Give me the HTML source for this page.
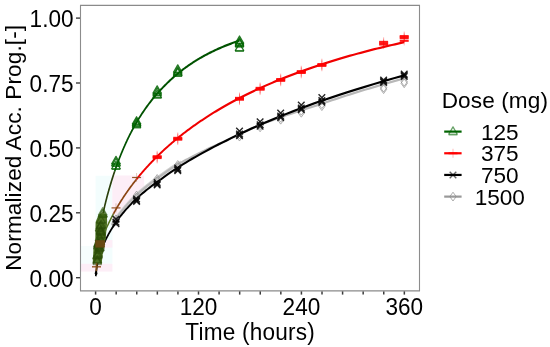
<!DOCTYPE html><html><head><meta charset="utf-8"><style>
html,body{margin:0;padding:0;background:#fff;}
body{width:550px;height:347px;overflow:hidden;}
svg{display:block;will-change:transform;filter:blur(0.3px);}
.ls{letter-spacing:0.27px;}
text{font-family:"Liberation Sans",sans-serif;fill:#000;}
</style></head><body>
<svg width="550" height="347" viewBox="0 0 550 347">
<rect x="0" y="0" width="550" height="347" fill="#fff"/>
<rect x="95.6" y="175.7" width="16.8" height="88.1" fill="#f3fdfd"/>
<rect x="81" y="246" width="14.6" height="17.8" fill="#f6fdfd"/>
<rect x="81" y="263.8" width="31.4" height="7.8" fill="#fdeef7"/>
<rect x="105" y="240" width="7.4" height="7.6" fill="#fdeef7"/>
<path d="M112.40,175.60 L144.00,175.60 L144.29,188.29 L143.19,189.27 L142.08,190.26 L140.97,191.27 L139.86,192.29 L138.75,193.33 L137.64,194.38 L136.53,195.44 L135.42,196.53 L134.31,197.63 L133.20,198.74 L132.09,199.88 L130.98,201.04 L129.87,202.22 L128.77,203.42 L127.66,204.64 L126.55,205.88 L125.44,207.16 L124.33,208.45 L123.22,209.78 L122.11,211.14 L121.00,212.53 L119.89,213.95 L118.78,215.41 L117.67,216.90 L116.56,218.44 L115.45,220.03 L114.35,221.67 L113.24,223.35 L112.13,225.10 Z" fill="#fdeef7"/>
<g transform="scale(1,1.4)">
<path d="M111.70,160.71 L111.83,160.55 L111.97,160.39 L112.11,160.23 L112.25,160.07 L112.39,159.91 L112.54,159.75 L112.68,159.59 L112.82,159.43 L112.97,159.26 L113.12,159.10 L113.27,158.94 L113.41,158.77 L113.57,158.60 L113.72,158.44 L113.87,158.27 L114.03,158.10 L114.18,157.94 L114.34,157.77 L114.50,157.60 L114.66,157.43 L114.82,157.26 L114.98,157.09 L115.15,156.91 L115.31,156.74 L115.48,156.57 L115.65,156.39 L115.82,156.22 L115.99,156.04 L116.16,155.87 L116.33,155.69 L116.51,155.51 L116.69,155.34 L116.87,155.16 L117.05,154.98 L117.23,154.80 L117.41,154.62 L117.59,154.44 L117.78,154.26 L117.97,154.07 L118.16,153.89 L118.35,153.71 L118.54,153.52 L118.73,153.34 L118.93,153.15 L119.13,152.96 L119.33,152.78 L119.53,152.59 L119.73,152.40 L119.93,152.21 L120.14,152.02 L120.34,151.83 L120.55,151.64 L120.76,151.45 L120.98,151.25 L121.19,151.06 L121.41,150.87 L121.63,150.67 L121.85,150.47 L122.07,150.28 L122.29,150.08 L122.52,149.88 L122.74,149.68 L122.97,149.49 L123.20,149.29 L123.44,149.08 L123.67,148.88 L123.91,148.68 L124.15,148.48 L124.39,148.27 L124.63,148.07 L124.88,147.86 L125.12,147.66 L125.37,147.45 L125.62,147.24 L125.88,147.04 L126.13,146.83 L126.39,146.62 L126.65,146.41 L126.91,146.19 L127.18,145.98 L127.44,145.77 L127.71,145.56 L127.98,145.34 L128.25,145.13 L128.53,144.91 L128.81,144.69 L129.09,144.48 L129.37,144.26 L129.65,144.04 L129.94,143.82 L130.23,143.60 L130.52,143.38 L130.82,143.15 L131.11,142.93 L131.41,142.71 L131.71,142.48 L132.02,142.26 L132.33,142.03 L132.63,141.80 L132.95,141.57 L133.26,141.35 L133.58,141.12 L133.90,140.89 L134.22,140.66 L134.55,140.44 L134.87,140.22 L135.21,140.00 L135.54,139.78 L135.88,139.55 L136.21,139.33 L136.56,139.10 L136.90,138.88 L137.25,138.65 L137.60,138.42 L137.95,138.20 L138.31,137.97 L138.67,137.74 L139.03,137.51 L139.40,137.28 L139.77,137.05 L140.14,136.81 L140.51,136.58 L140.89,136.35 L141.27,136.11 L141.66,135.88 L142.05,135.64 L142.44,135.40 L142.83,135.17 L143.23,134.93 L143.63,134.69 L144.03,134.45 L144.44,134.21 L144.85,133.97 L145.27,133.72 L145.68,133.48 L146.11,133.24 L146.53,132.99 L146.96,132.75 L147.39,132.50 L147.83,132.25 L148.27,132.01 L148.71,131.76 L149.16,131.51 L149.61,131.26 L150.06,131.01 L150.52,130.75 L150.98,130.50 L151.45,130.25 L151.92,129.99 L152.39,129.74 L152.87,129.48 L153.35,129.23 L153.83,128.97 L154.32,128.71 L154.82,128.45 L155.32,128.19 L155.82,127.93 L156.32,127.67 L156.83,127.41 L157.35,127.14 L157.87,126.88 L158.39,126.62 L158.92,126.35 L159.45,126.08 L159.99,125.81 L160.53,125.52 L161.08,125.23 L161.63,124.94 L162.18,124.65 L162.74,124.36 L163.31,124.07 L163.87,123.77 L164.45,123.48 L165.03,123.18 L165.61,122.89 L166.20,122.59 L166.79,122.29 L167.39,121.99 L167.99,121.69 L168.60,121.39 L169.22,121.09 L169.83,120.78 L170.46,120.48 L171.09,120.17 L171.72,119.87 L172.36,119.56 L173.01,119.27 L173.66,118.99 L174.31,118.71 L174.97,118.43 L175.64,118.15 L176.31,117.87 L176.99,117.59 L177.67,117.30 L178.36,117.02 L179.06,116.74 L179.76,116.45 L180.47,116.16 L181.18,115.88" fill="none" stroke="#d2d2d2" stroke-width="2.6"/>
<path d="M111.70,160.92 L111.94,160.64 L112.19,160.36 L112.44,160.08 L112.69,159.79 L112.95,159.50 L113.21,159.21 L113.48,158.92 L113.74,158.62 L114.02,158.33 L114.29,158.03 L114.58,157.73 L114.86,157.43 L115.15,157.12 L115.45,156.82 L115.74,156.51 L116.05,156.20 L116.35,155.89 L116.67,155.57 L116.98,155.26 L117.30,154.94 L117.63,154.62 L117.96,154.29 L118.30,153.97 L118.64,153.64 L118.98,153.31 L119.34,152.98 L119.69,152.65 L120.05,152.31 L120.42,151.97 L120.79,151.63 L121.17,151.29 L121.56,150.95 L121.95,150.60 L122.34,150.25 L122.74,149.90 L123.15,149.55 L123.56,149.19 L123.98,148.83 L124.41,148.47 L124.84,148.11 L125.28,147.74 L125.72,147.38 L126.17,147.01 L126.63,146.63 L127.10,146.26 L127.57,145.88 L128.05,145.50 L128.54,145.12 L129.03,144.73 L129.53,144.35 L130.04,143.96 L130.55,143.57 L131.08,143.17 L131.61,142.77 L132.15,142.38 L132.70,141.97 L133.25,141.57 L133.81,141.16 L134.39,140.76 L134.97,140.37 L135.56,139.98 L136.15,139.58 L136.76,139.18 L137.38,138.78 L138.00,138.38 L138.64,137.97 L139.28,137.57 L139.93,137.16 L140.60,136.74 L141.27,136.33 L141.95,135.91 L142.65,135.49 L143.35,135.07 L144.06,134.64 L144.79,134.22 L145.52,133.79 L146.27,133.36 L147.03,132.92 L147.80,132.48 L148.58,132.04 L149.37,131.60 L150.17,131.16 L150.99,130.71 L151.82,130.26 L152.66,129.81 L153.51,129.36 L154.37,128.90 L155.25,128.44 L156.14,127.98 L157.05,127.51 L157.97,127.05 L158.90,126.58 L159.84,126.10 L160.80,125.59 L161.78,125.08 L162.77,124.56 L163.77,124.04 L164.79,123.52 L165.82,123.00 L166.87,122.47 L167.93,121.94 L169.01,121.40 L170.11,120.86 L171.22,120.32 L172.35,119.78 L173.50,119.27 L174.66,118.78 L175.84,118.28 L177.04,117.78 L178.26,117.28 L179.49,116.78 L180.74,116.27 L182.01,115.76 L183.30,115.25 L184.61,114.73 L185.94,114.22 L187.29,113.70 L188.66,113.18 L190.05,112.65 L191.46,112.13 L192.89,111.60 L194.34,111.07 L195.81,110.53 L197.31,110.00 L198.82,109.46 L200.36,108.92 L201.93,108.37 L203.51,107.83 L205.12,107.28 L206.76,106.73 L208.42,106.17 L210.10,105.62 L211.81,105.06 L213.54,104.50 L215.30,103.94 L217.09,103.37 L218.90,102.80 L220.74,102.23 L222.60,101.66 L224.50,101.06 L226.42,100.37 L228.37,99.67 L230.35,98.97 L232.36,98.26 L234.40,97.55 L236.47,96.84 L238.57,96.12 L240.70,95.40 L242.87,94.67 L245.06,93.94 L247.29,93.21 L249.55,92.47 L251.85,91.73 L254.18,90.98 L256.54,90.23 L258.94,89.49 L261.38,88.82 L263.85,88.14 L266.36,87.46 L268.91,86.78 L271.49,86.11 L274.11,85.43 L276.77,84.74 L279.47,84.06 L282.22,83.37 L285.00,82.68 L287.82,81.98 L290.69,81.28 L293.60,80.58 L296.55,79.88 L299.54,79.17 L302.58,78.46 L305.67,77.75 L308.80,77.04 L311.98,76.32 L315.20,75.60 L318.48,74.87 L321.80,74.06 L325.17,73.24 L328.59,72.41 L332.06,71.58 L335.59,70.75 L339.16,69.91 L342.79,69.07 L346.48,68.22 L350.22,67.37 L354.01,66.52 L357.86,65.66 L361.77,64.79 L365.74,63.93 L369.77,63.06 L373.85,62.18 L378.00,61.30 L382.21,60.42 L386.48,59.53 L390.81,58.64 L395.21,57.74 L399.68,56.84 L404.21,55.93" fill="none" stroke="#b8b8b8" stroke-width="1.6"/>
<path d="M95.74,197.33 L95.76,197.23 L95.77,197.12 L95.78,197.01 L95.79,196.90 L95.81,196.79 L95.82,196.67 L95.84,196.56 L95.85,196.44 L95.87,196.32 L95.88,196.20 L95.90,196.08 L95.92,195.95 L95.94,195.82 L95.95,195.69 L95.97,195.56 L95.99,195.43 L96.01,195.29 L96.03,195.15 L96.06,195.01 L96.08,194.87 L96.10,194.72 L96.13,194.57 L96.15,194.42 L96.18,194.27 L96.21,194.11 L96.23,193.95 L96.26,193.79 L96.29,193.63 L96.32,193.46 L96.36,193.29 L96.39,193.12 L96.42,192.95 L96.46,192.77 L96.50,192.59 L96.54,192.40 L96.57,192.22 L96.62,192.03 L96.66,191.83 L96.70,191.64 L96.75,191.44 L96.79,191.23 L96.84,191.03 L96.89,190.82 L96.94,190.61 L97.00,190.39 L97.05,190.17 L97.11,189.94 L97.17,189.72 L97.23,189.49 L97.30,189.25 L97.36,189.01 L97.43,188.77 L97.50,188.52 L97.57,188.27 L97.65,188.02 L97.73,187.76 L97.81,187.49 L97.89,187.23 L97.98,186.95 L98.07,186.68 L98.16,186.40 L98.26,186.11 L98.36,185.82 L98.46,185.52 L98.57,185.22 L98.68,184.92 L98.79,184.61 L98.91,184.29 L99.03,183.97 L99.16,183.65 L99.29,183.32 L99.42,182.98 L99.56,182.64 L99.71,182.29 L99.86,181.94 L100.01,181.58 L100.17,181.22 L100.34,180.85 L100.51,180.47 L100.69,180.09 L100.87,179.70 L101.06,179.31 L101.26,178.90 L101.46,178.50 L101.67,178.08 L101.89,177.66 L102.11,177.23 L102.35,176.80 L102.59,176.36 L102.84,175.91 L103.10,175.46 L103.37,174.99 L103.64,174.52 L103.93,174.04 L104.23,173.56 L104.53,173.07 L104.85,172.57 L105.18,172.06 L105.52,171.54 L105.87,171.01 L106.24,170.48 L106.61,169.94 L107.00,169.39 L107.41,168.83 L107.82,168.26 L108.25,167.69 L108.70,167.10 L109.16,166.50 L109.64,165.90 L110.14,165.29 L110.65,164.66 L111.18,164.03 L111.73,163.39 L112.30,162.73 L112.89,162.07 L113.49,161.40 L114.12,160.71 L114.77,160.02 L115.45,159.32 L116.14,158.60 L116.87,157.87 L117.61,157.13 L118.38,156.39 L119.18,155.62 L120.01,154.85 L120.87,154.07 L121.75,153.27 L122.67,152.46 L123.62,151.64 L124.60,150.81 L125.61,149.97 L126.66,149.11 L127.75,148.24 L128.88,147.35 L130.04,146.46 L131.24,145.55 L132.49,144.62 L133.78,143.68 L135.12,142.77 L136.50,141.86 L137.93,140.93 L139.40,139.99 L140.93,139.04 L142.52,138.07 L144.16,137.09 L145.85,136.10 L147.61,135.09 L149.42,134.07 L151.30,133.04 L153.24,132.00 L155.26,130.94 L157.34,129.87 L159.49,128.78 L161.72,127.61 L164.03,126.41 L166.41,125.20 L168.88,123.97 L171.44,122.72 L174.08,121.45 L176.82,120.17 L179.65,118.87 L182.58,117.55 L185.61,116.21 L188.75,114.86 L191.99,113.48 L195.35,112.09 L198.83,110.68 L202.42,109.25 L206.15,107.80 L210.00,106.34 L213.98,104.85 L218.10,103.34 L222.37,101.81 L226.79,100.24 L231.36,98.62 L236.08,96.97 L240.98,95.31 L246.04,93.62 L251.28,91.91 L256.70,90.18 L262.31,88.42 L268.11,86.65 L274.12,84.86 L280.33,83.06 L286.76,81.23 L293.41,79.38 L300.30,77.50 L307.43,75.60 L314.80,73.68 L322.43,71.76 L330.32,69.85 L338.49,67.92 L346.95,65.97 L355.69,64.00 L364.74,62.00 L374.11,59.98 L383.80,57.94 L393.83,55.88 L404.21,53.79" fill="none" stroke="#000" stroke-width="1.6"/>
<path d="M95.74,187.23 L95.75,187.20 L95.76,187.17 L95.76,187.13 L95.77,187.10 L95.78,187.06 L95.79,187.02 L95.79,186.99 L95.80,186.95 L95.81,186.91 L95.82,186.87 L95.83,186.84 L95.84,186.80 L95.84,186.76 L95.85,186.72 L95.86,186.67 L95.87,186.63 L95.88,186.59 L95.89,186.55 L95.90,186.50 L95.91,186.46 L95.92,186.42 L95.93,186.37 L95.94,186.32 L95.95,186.28 L95.96,186.23 L95.98,186.18 L95.99,186.13 L96.00,186.08 L96.01,186.03 L96.02,185.98 L96.04,185.93 L96.05,185.88 L96.06,185.83 L96.08,185.77 L96.09,185.72 L96.10,185.66 L96.12,185.61 L96.13,185.55 L96.15,185.49 L96.16,185.44 L96.18,185.38 L96.19,185.32 L96.21,185.26 L96.22,185.19 L96.24,185.13 L96.26,185.07 L96.27,185.00 L96.29,184.94 L96.31,184.87 L96.33,184.80 L96.35,184.74 L96.37,184.67 L96.39,184.60 L96.41,184.53 L96.43,184.45 L96.45,184.38 L96.47,184.31 L96.49,184.23 L96.51,184.16 L96.53,184.08 L96.56,184.00 L96.58,183.92 L96.60,183.84 L96.63,183.76 L96.65,183.68 L96.68,183.59 L96.70,183.51 L96.73,183.42 L96.75,183.34 L96.78,183.25 L96.81,183.16 L96.84,183.07 L96.87,182.97 L96.90,182.88 L96.93,182.79 L96.96,182.69 L96.99,182.59 L97.02,182.49 L97.05,182.39 L97.09,182.29 L97.12,182.19 L97.15,182.08 L97.19,181.98 L97.23,181.87 L97.26,181.76 L97.30,181.65 L97.34,181.54 L97.38,181.43 L97.42,181.31 L97.46,181.20 L97.50,181.08 L97.54,180.96 L97.58,180.84 L97.63,180.71 L97.67,180.59 L97.72,180.46 L97.77,180.33 L97.81,180.20 L97.86,180.07 L97.91,179.94 L97.96,179.80 L98.01,179.67 L98.07,179.53 L98.12,179.39 L98.17,179.24 L98.23,179.10 L98.29,178.95 L98.34,178.80 L98.40,178.65 L98.46,178.50 L98.53,178.34 L98.59,178.19 L98.65,178.03 L98.72,177.87 L98.78,177.70 L98.85,177.54 L98.92,177.37 L98.99,177.20 L99.07,177.03 L99.14,176.85 L99.21,176.68 L99.29,176.50 L99.37,176.32 L99.45,176.13 L99.53,175.94 L99.61,175.75 L99.70,175.56 L99.78,175.37 L99.87,175.17 L99.96,174.97 L100.05,174.77 L100.15,174.57 L100.24,174.36 L100.34,174.15 L100.44,173.93 L100.54,173.72 L100.64,173.50 L100.75,173.28 L100.86,173.05 L100.97,172.83 L101.08,172.60 L101.19,172.36 L101.31,172.13 L101.43,171.89 L101.55,171.64 L101.67,171.40 L101.80,171.15 L101.93,170.90 L102.06,170.64 L102.19,170.38 L102.33,170.12 L102.47,169.85 L102.61,169.58 L102.76,169.31 L102.90,169.04 L103.05,168.76 L103.21,168.47 L103.37,168.19 L103.53,167.90 L103.69,167.60 L103.86,167.30 L104.03,167.00 L104.20,166.70 L104.38,166.39 L104.56,166.07 L104.74,165.76 L104.93,165.44 L105.12,165.11 L105.31,164.78 L105.51,164.45 L105.72,164.11 L105.92,163.77 L106.14,163.42 L106.35,163.07 L106.57,162.72 L106.80,162.36 L107.03,162.00 L107.26,161.63 L107.50,161.25 L107.74,160.88 L107.99,160.50 L108.24,160.11 L108.50,159.72 L108.76,159.32 L109.03,158.92 L109.31,158.52 L109.59,158.11 L109.87,157.69 L110.16,157.28 L110.46,156.85 L110.76,156.42 L111.07,155.99 L111.39,155.55 L111.71,155.10 L112.04,154.65 L112.37,154.20 L112.71,153.74 L113.06,153.27 L113.41,152.80" fill="none" stroke="#56701c" stroke-width="1.4000000000000001"/>
<path d="M113.41,152.80 L113.49,152.70 L113.56,152.60 L113.64,152.50 L113.72,152.40 L113.79,152.30 L113.87,152.20 L113.95,152.10 L114.02,152.00 L114.10,151.90 L114.18,151.80 L114.26,151.69 L114.33,151.59 L114.41,151.49 L114.49,151.39 L114.57,151.29 L114.65,151.18 L114.73,151.08 L114.81,150.98 L114.89,150.87 L114.97,150.77 L115.06,150.67 L115.14,150.56 L115.22,150.46 L115.30,150.35 L115.39,150.25 L115.47,150.14 L115.55,150.04 L115.64,149.93 L115.72,149.83 L115.80,149.72 L115.89,149.62 L115.97,149.51 L116.06,149.40 L116.15,149.29 L116.23,149.19 L116.32,149.08 L116.41,148.97 L116.49,148.86 L116.58,148.76 L116.67,148.65 L116.76,148.54 L116.85,148.43 L116.94,148.32 L117.03,148.21 L117.12,148.10 L117.21,147.99 L117.30,147.88 L117.39,147.77 L117.48,147.66 L117.57,147.55 L117.66,147.44 L117.76,147.32 L117.85,147.21 L117.94,147.10 L118.04,146.99 L118.13,146.88 L118.23,146.76 L118.32,146.65 L118.42,146.54 L118.51,146.42 L118.61,146.31 L118.71,146.19 L118.80,146.08 L118.90,145.97 L119.00,145.85 L119.10,145.74 L119.19,145.62 L119.29,145.50 L119.39,145.39 L119.49,145.27 L119.59,145.16 L119.69,145.04 L119.80,144.92 L119.90,144.80 L120.00,144.69 L120.10,144.57 L120.20,144.45 L120.31,144.33 L120.41,144.21 L120.52,144.10 L120.62,143.98 L120.72,143.86 L120.83,143.74 L120.94,143.62 L121.04,143.50 L121.15,143.38 L121.26,143.26 L121.36,143.13 L121.47,143.01 L121.58,142.89 L121.69,142.77 L121.80,142.65 L121.91,142.53 L122.02,142.40 L122.13,142.28 L122.24,142.16 L122.35,142.03 L122.47,141.91 L122.58,141.79 L122.69,141.66 L122.80,141.54 L122.92,141.41 L123.03,141.29 L123.15,141.16 L123.26,141.04 L123.38,140.91 L123.50,140.78 L123.61,140.66 L123.73,140.53 L123.85,140.40 L123.97,140.28 L124.09,140.15 L124.21,140.02 L124.33,139.89 L124.45,139.77 L124.57,139.64 L124.69,139.51 L124.81,139.38 L124.93,139.25 L125.06,139.12 L125.18,138.99 L125.30,138.86 L125.43,138.73 L125.55,138.60 L125.68,138.47 L125.80,138.34 L125.93,138.20 L126.06,138.07 L126.18,137.94 L126.31,137.81 L126.44,137.68 L126.57,137.54 L126.70,137.41 L126.83,137.28 L126.96,137.14 L127.09,137.01 L127.23,136.87 L127.36,136.74 L127.49,136.60 L127.62,136.47 L127.76,136.33 L127.89,136.20 L128.03,136.06 L128.16,135.92 L128.30,135.79 L128.44,135.65 L128.58,135.51 L128.71,135.38 L128.85,135.24 L128.99,135.10 L129.13,134.96 L129.27,134.82 L129.41,134.68 L129.55,134.54 L129.70,134.41 L129.84,134.27 L129.98,134.13 L130.13,133.98 L130.27,133.84 L130.42,133.70 L130.56,133.56 L130.71,133.42 L130.86,133.28 L131.00,133.14 L131.15,132.99 L131.30,132.85 L131.45,132.71 L131.60,132.57 L131.75,132.42 L131.90,132.28 L132.05,132.13 L132.21,131.99 L132.36,131.85 L132.51,131.70 L132.67,131.56 L132.82,131.41 L132.98,131.26 L133.13,131.12 L133.29,130.97 L133.45,130.82 L133.61,130.68 L133.77,130.53 L133.93,130.38 L134.09,130.24 L134.25,130.09 L134.41,129.94 L134.57,129.79 L134.74,129.64 L134.90,129.49 L135.06,129.34 L135.23,129.19 L135.39,129.04 L135.56,128.89 L135.73,128.74 L135.90,128.59 L136.06,128.44 L136.23,128.29 L136.40,128.14 L136.57,127.98" fill="none" stroke="#8b4513" stroke-width="1.5"/>
<path d="M136.57,127.98 L136.99,127.61 L137.42,127.24 L137.84,126.86 L138.28,126.48 L138.71,126.11 L139.15,125.72 L139.60,125.34 L140.05,124.96 L140.50,124.57 L140.96,124.18 L141.43,123.80 L141.89,123.40 L142.37,123.01 L142.84,122.62 L143.33,122.22 L143.82,121.82 L144.31,121.42 L144.81,121.02 L145.31,120.62 L145.82,120.21 L146.33,119.81 L146.85,119.40 L147.37,118.99 L147.90,118.58 L148.43,118.16 L148.97,117.75 L149.52,117.33 L150.07,116.91 L150.63,116.49 L151.19,116.07 L151.76,115.65 L152.33,115.22 L152.91,114.80 L153.49,114.37 L154.09,113.94 L154.68,113.50 L155.29,113.07 L155.90,112.63 L156.51,112.20 L157.13,111.76 L157.76,111.32 L158.40,110.88 L159.04,110.43 L159.68,109.99 L160.34,109.54 L161.00,109.09 L161.67,108.64 L162.34,108.19 L163.02,107.74 L163.71,107.28 L164.41,106.83 L165.11,106.37 L165.82,105.91 L166.53,105.45 L167.26,104.98 L167.99,104.52 L168.73,104.05 L169.47,103.58 L170.23,103.12 L170.99,102.65 L171.76,102.17 L172.54,101.70 L173.32,101.22 L174.11,100.75 L174.92,100.27 L175.72,99.79 L176.54,99.31 L177.37,98.83 L178.20,98.34 L179.04,97.86 L179.90,97.37 L180.76,96.88 L181.62,96.39 L182.50,95.90 L183.39,95.41 L184.28,94.92 L185.19,94.42 L186.10,93.92 L187.02,93.43 L187.96,92.93 L188.90,92.43 L189.85,91.93 L190.81,91.42 L191.78,90.92 L192.76,90.41 L193.75,89.91 L194.76,89.40 L195.77,88.89 L196.79,88.38 L197.82,87.87 L198.86,87.36 L199.91,86.84 L200.98,86.33 L202.05,85.81 L203.14,85.29 L204.23,84.78 L205.34,84.26 L206.46,83.74 L207.59,83.22 L208.73,82.69 L209.89,82.17 L211.05,81.65 L212.23,81.12 L213.42,80.60 L214.62,80.07 L215.83,79.54 L217.06,79.01 L218.30,78.49 L219.55,77.95 L220.81,77.42 L222.09,76.89 L223.37,76.36 L224.68,75.83 L225.99,75.29 L227.32,74.76 L228.66,74.22 L230.02,73.69 L231.39,73.15 L232.77,72.61 L234.17,72.08 L235.58,71.54 L237.01,71.00 L238.45,70.46 L239.91,69.92 L241.38,69.38 L242.86,68.84 L244.36,68.30 L245.88,67.76 L247.41,67.22 L248.96,66.67 L250.52,66.13 L252.10,65.59 L253.70,65.05 L255.31,64.50 L256.93,63.96 L258.58,63.42 L260.24,62.87 L261.92,62.33 L263.61,61.78 L265.32,61.24 L267.05,60.70 L268.80,60.15 L270.56,59.61 L272.34,59.07 L274.15,58.52 L275.96,57.98 L277.80,57.44 L279.66,56.89 L281.53,56.35 L283.43,55.81 L285.34,55.26 L287.27,54.72 L289.23,54.18 L291.20,53.64 L293.19,53.10 L295.20,52.56 L297.24,52.02 L299.29,51.48 L301.37,50.94 L303.46,50.40 L305.58,49.86 L307.72,49.32 L309.88,48.79 L312.06,48.25 L314.27,47.71 L316.49,47.18 L318.74,46.64 L321.02,46.11 L323.31,45.58 L325.63,45.05 L327.98,44.52 L330.34,43.99 L332.73,43.46 L335.15,42.93 L337.59,42.40 L340.05,41.88 L342.54,41.35 L345.06,40.83 L347.60,40.31 L350.17,39.79 L352.76,39.27 L355.38,38.75 L358.02,38.23 L360.70,37.72 L363.39,37.20 L366.12,36.69 L368.88,36.18 L371.66,35.67 L374.47,35.16 L377.31,34.65 L380.18,34.15 L383.08,33.64 L386.01,33.14 L388.96,32.64 L391.95,32.14 L394.97,31.64 L398.02,31.15 L401.10,30.65 L404.21,30.16" fill="none" stroke="#f00000" stroke-width="1.6"/>
<path d="M95.74,184.12 L95.75,184.06 L95.76,184.01 L95.76,183.95 L95.77,183.90 L95.78,183.84 L95.79,183.78 L95.80,183.72 L95.80,183.66 L95.81,183.60 L95.82,183.54 L95.83,183.48 L95.84,183.41 L95.85,183.35 L95.86,183.28 L95.86,183.21 L95.87,183.15 L95.88,183.08 L95.89,183.01 L95.90,182.93 L95.91,182.86 L95.92,182.79 L95.94,182.71 L95.95,182.64 L95.96,182.56 L95.97,182.48 L95.98,182.40 L95.99,182.32 L96.00,182.24 L96.02,182.16 L96.03,182.07 L96.04,181.99 L96.06,181.90 L96.07,181.81 L96.08,181.72 L96.10,181.63 L96.11,181.54 L96.13,181.44 L96.14,181.35 L96.16,181.25 L96.17,181.15 L96.19,181.05 L96.20,180.95 L96.22,180.85 L96.24,180.74 L96.25,180.63 L96.27,180.53 L96.29,180.42 L96.31,180.30 L96.33,180.19 L96.34,180.08 L96.36,179.96 L96.38,179.84 L96.40,179.72 L96.42,179.60 L96.45,179.48 L96.47,179.35 L96.49,179.22 L96.51,179.09 L96.53,178.96 L96.56,178.83 L96.58,178.69 L96.60,178.55 L96.63,178.41 L96.65,178.27 L96.68,178.13 L96.71,177.98 L96.73,177.83 L96.76,177.68 L96.79,177.53 L96.82,177.37 L96.84,177.21 L96.87,177.05 L96.90,176.89 L96.94,176.73 L96.97,176.56 L97.00,176.39 L97.03,176.22 L97.07,176.04 L97.10,175.86 L97.13,175.68 L97.17,175.50 L97.21,175.32 L97.24,175.13 L97.28,174.94 L97.32,174.74 L97.36,174.54 L97.40,174.34 L97.44,174.14 L97.48,173.94 L97.52,173.73 L97.57,173.52 L97.61,173.30 L97.66,173.08 L97.70,172.86 L97.75,172.64 L97.80,172.41 L97.85,172.18 L97.90,171.94 L97.95,171.70 L98.00,171.46 L98.05,171.22 L98.11,170.97 L98.16,170.72 L98.22,170.46 L98.28,170.20 L98.34,169.94 L98.40,169.67 L98.46,169.40 L98.52,169.13 L98.58,168.85 L98.65,168.56 L98.71,168.28 L98.78,167.99 L98.85,167.69 L98.92,167.39 L98.99,167.09 L99.07,166.78 L99.14,166.47 L99.22,166.16 L99.30,165.84 L99.38,165.51 L99.46,165.18 L99.54,164.85 L99.63,164.51 L99.71,164.16 L99.80,163.82 L99.89,163.46 L99.98,163.11 L100.08,162.74 L100.17,162.38 L100.27,162.00 L100.37,161.63 L100.47,161.24 L100.58,160.86 L100.68,160.46 L100.79,160.07 L100.90,159.66 L101.01,159.25 L101.13,158.84 L101.24,158.42 L101.36,157.99 L101.49,157.56 L101.61,157.13 L101.74,156.68 L101.87,156.24 L102.00,155.78 L102.13,155.32 L102.27,154.86 L102.41,154.39 L102.56,153.91 L102.70,153.43 L102.85,152.94 L103.00,152.44 L103.16,151.94 L103.32,151.43 L103.48,150.92 L103.65,150.40 L103.81,149.87 L103.99,149.34 L104.16,148.80 L104.34,148.25 L104.52,147.70 L104.71,147.14 L104.90,146.57 L105.10,146.00 L105.29,145.42 L105.50,144.83 L105.70,144.24 L105.91,143.64 L106.13,143.03 L106.35,142.42 L106.57,141.80 L106.80,141.17 L107.03,140.53 L107.27,139.89 L107.51,139.24 L107.76,138.59 L108.01,137.92 L108.27,137.25 L108.54,136.58 L108.80,135.89 L109.08,135.20 L109.36,134.50 L109.64,133.79 L109.94,133.08 L110.23,132.36 L110.54,131.63 L110.85,130.89 L111.16,130.15 L111.48,129.40 L111.81,128.64 L112.15,127.88 L112.49,127.11 L112.84,126.33 L113.20,125.54 L113.56,124.75 L113.93,123.95 L114.31,123.14 L114.70,122.32" fill="none" stroke="#2a3f0c" stroke-width="1.6"/>
<path d="M114.70,122.32 L114.90,121.91 L115.09,121.50 L115.29,121.09 L115.50,120.67 L115.70,120.26 L115.91,119.84 L116.11,119.42 L116.33,119.00 L116.54,118.58 L116.75,118.15 L116.97,117.72 L117.19,117.29 L117.41,116.86 L117.63,116.43 L117.86,116.00 L118.09,115.56 L118.32,115.13 L118.55,114.69 L118.78,114.25 L119.02,113.80 L119.26,113.36 L119.50,112.92 L119.75,112.47 L120.00,112.02 L120.25,111.57 L120.50,111.12 L120.75,110.66 L121.01,110.21 L121.27,109.75 L121.53,109.29 L121.80,108.84 L122.07,108.37 L122.34,107.91 L122.61,107.45 L122.89,106.98 L123.17,106.51 L123.45,106.05 L123.73,105.57 L124.02,105.10 L124.31,104.63 L124.61,104.16 L124.90,103.68 L125.20,103.20 L125.50,102.72 L125.81,102.24 L126.12,101.76 L126.43,101.28 L126.75,100.80 L127.06,100.31 L127.39,99.82 L127.71,99.34 L128.04,98.85 L128.37,98.36 L128.70,97.86 L129.04,97.37 L129.38,96.88 L129.73,96.38 L130.08,95.89 L130.43,95.40 L130.79,94.91 L131.14,94.41 L131.51,93.92 L131.87,93.42 L132.24,92.93 L132.62,92.43 L133.00,91.93 L133.38,91.43 L133.76,90.93 L134.15,90.43 L134.55,89.93 L134.94,89.43 L135.35,88.92 L135.75,88.42 L136.16,87.91 L136.58,87.41 L136.99,86.90 L137.42,86.40 L137.84,85.89 L138.27,85.38 L138.71,84.87 L139.15,84.36 L139.59,83.85 L140.04,83.34 L140.49,82.83 L140.95,82.32 L141.42,81.81 L141.88,81.30 L142.35,80.79 L142.83,80.28 L143.31,79.76 L143.80,79.25 L144.29,78.74 L144.79,78.22 L145.29,77.71 L145.80,77.20 L146.31,76.68 L146.82,76.17 L147.35,75.66 L147.87,75.14 L148.41,74.63 L148.94,74.12 L149.49,73.60 L150.04,73.09 L150.59,72.58 L151.15,72.06 L151.72,71.55 L152.29,71.04 L152.87,70.53 L153.45,70.02 L154.04,69.50 L154.64,68.99 L155.24,68.48 L155.85,67.97 L156.46,67.46 L157.08,66.96 L157.71,66.45 L158.34,65.94 L158.98,65.43 L159.62,64.93 L160.27,64.42 L160.93,63.92 L161.60,63.42 L162.27,62.91 L162.95,62.41 L163.64,61.91 L164.33,61.41 L165.03,60.89 L165.74,60.39 L166.45,59.88 L167.17,59.37 L167.90,58.86 L168.64,58.36 L169.38,57.85 L170.13,57.35 L170.89,56.85 L171.66,56.35 L172.43,55.85 L173.21,55.35 L174.00,54.86 L174.80,54.36 L175.61,53.87 L176.42,53.38 L177.24,52.88 L178.08,52.40 L178.92,51.91 L179.76,51.42 L180.62,50.94 L181.49,50.46 L182.36,49.98 L183.24,49.50 L184.13,49.02 L185.04,48.55 L185.95,48.07 L186.86,47.60 L187.79,47.13 L188.73,46.66 L189.68,46.20 L190.64,45.74 L191.60,45.28 L192.58,44.82 L193.57,44.36 L194.56,43.91 L195.57,43.45 L196.59,43.00 L197.62,42.56 L198.65,42.11 L199.70,41.67 L200.76,41.23 L201.83,40.79 L202.91,40.36 L204.00,39.92 L205.11,39.49 L206.22,39.07 L207.35,38.64 L208.48,38.22 L209.63,37.80 L210.79,37.38 L211.96,36.97 L213.15,36.56 L214.34,36.15 L215.55,35.74 L216.77,35.34 L218.00,34.94 L219.25,34.54 L220.50,34.15 L221.77,33.76 L223.06,33.37 L224.35,32.99 L225.66,32.60 L226.99,32.22 L228.32,31.85 L229.67,31.48 L231.03,31.11 L232.41,30.74 L233.80,30.38 L235.21,30.02 L236.63,29.66 L238.06,29.31 L239.51,28.96" fill="none" stroke="#005200" stroke-width="1.6"/>
</g>
<path d="M115.99,214.86 L119.19,219.26 L115.99,223.66 L112.79,219.26 Z" stroke="#8c8c8c" stroke-opacity="0.7" stroke-width="1.0" fill="none"/>
<path d="M115.99,216.86 L119.19,221.26 L115.99,225.66 L112.79,221.26 Z" stroke="#8c8c8c" stroke-opacity="0.7" stroke-width="1.0" fill="none"/>
<path d="M136.57,191.13 L139.77,195.53 L136.57,199.93 L133.37,195.53 Z" stroke="#8c8c8c" stroke-opacity="0.7" stroke-width="1.0" fill="none"/>
<path d="M136.57,193.13 L139.77,197.53 L136.57,201.93 L133.37,197.53 Z" stroke="#8c8c8c" stroke-opacity="0.7" stroke-width="1.0" fill="none"/>
<path d="M157.16,174.54 L160.36,178.94 L157.16,183.34 L153.96,178.94 Z" stroke="#8c8c8c" stroke-opacity="0.7" stroke-width="1.0" fill="none"/>
<path d="M157.16,176.54 L160.36,180.94 L157.16,185.34 L153.96,180.94 Z" stroke="#8c8c8c" stroke-opacity="0.7" stroke-width="1.0" fill="none"/>
<path d="M177.75,160.58 L180.95,164.98 L177.75,169.38 L174.55,164.98 Z" stroke="#8c8c8c" stroke-opacity="0.7" stroke-width="1.0" fill="none"/>
<path d="M177.75,162.58 L180.95,166.98 L177.75,171.38 L174.55,166.98 Z" stroke="#8c8c8c" stroke-opacity="0.7" stroke-width="1.0" fill="none"/>
<path d="M239.51,130.22 L242.71,134.62 L239.51,139.02 L236.31,134.62 Z" stroke="#8c8c8c" stroke-opacity="0.7" stroke-width="1.0" fill="none"/>
<path d="M239.51,132.22 L242.71,136.62 L239.51,141.02 L236.31,136.62 Z" stroke="#8c8c8c" stroke-opacity="0.7" stroke-width="1.0" fill="none"/>
<path d="M260.10,120.94 L263.30,125.34 L260.10,129.74 L256.90,125.34 Z" stroke="#8c8c8c" stroke-opacity="0.7" stroke-width="1.0" fill="none"/>
<path d="M260.10,122.94 L263.30,127.34 L260.10,131.74 L256.90,127.34 Z" stroke="#8c8c8c" stroke-opacity="0.7" stroke-width="1.0" fill="none"/>
<path d="M280.68,113.35 L283.88,117.75 L280.68,122.15 L277.48,117.75 Z" stroke="#8c8c8c" stroke-opacity="0.7" stroke-width="1.0" fill="none"/>
<path d="M280.68,115.35 L283.88,119.75 L280.68,124.15 L277.48,119.75 Z" stroke="#8c8c8c" stroke-opacity="0.7" stroke-width="1.0" fill="none"/>
<path d="M301.27,106.38 L304.47,110.78 L301.27,115.18 L298.07,110.78 Z" stroke="#8c8c8c" stroke-opacity="0.7" stroke-width="1.0" fill="none"/>
<path d="M301.27,108.38 L304.47,112.78 L301.27,117.18 L298.07,112.78 Z" stroke="#8c8c8c" stroke-opacity="0.7" stroke-width="1.0" fill="none"/>
<path d="M321.86,99.76 L325.06,104.16 L321.86,108.56 L318.66,104.16 Z" stroke="#8c8c8c" stroke-opacity="0.7" stroke-width="1.0" fill="none"/>
<path d="M321.86,101.76 L325.06,106.16 L321.86,110.56 L318.66,106.16 Z" stroke="#8c8c8c" stroke-opacity="0.7" stroke-width="1.0" fill="none"/>
<path d="M383.62,83.27 L386.82,87.67 L383.62,92.07 L380.42,87.67 Z" stroke="#8c8c8c" stroke-opacity="0.7" stroke-width="1.0" fill="none"/>
<path d="M383.62,84.77 L386.82,89.17 L383.62,93.57 L380.42,89.17 Z" stroke="#8c8c8c" stroke-opacity="0.7" stroke-width="1.0" fill="none"/>
<path d="M404.21,77.40 L407.41,81.80 L404.21,86.20 L401.01,81.80 Z" stroke="#8c8c8c" stroke-opacity="0.7" stroke-width="1.0" fill="none"/>
<path d="M404.21,78.90 L407.41,83.30 L404.21,87.70 L401.01,83.30 Z" stroke="#8c8c8c" stroke-opacity="0.7" stroke-width="1.0" fill="none"/>
<path d="M112.69,215.96 L119.29,222.56 M112.69,222.56 L119.29,215.96" stroke="#000" stroke-opacity="0.85" stroke-width="1.4" fill="none"/>
<path d="M112.69,218.96 L119.29,225.56 M112.69,225.56 L119.29,218.96" stroke="#000" stroke-opacity="0.85" stroke-width="1.4" fill="none"/>
<path d="M112.69,220.46 L119.29,227.06 M112.69,227.06 L119.29,220.46" stroke="#000" stroke-opacity="0.85" stroke-width="1.4" fill="none"/>
<path d="M133.27,195.73 L139.87,202.33 M133.27,202.33 L139.87,195.73" stroke="#000" stroke-opacity="0.85" stroke-width="1.4" fill="none"/>
<path d="M133.27,197.23 L139.87,203.83 M133.27,203.83 L139.87,197.23" stroke="#000" stroke-opacity="0.85" stroke-width="1.4" fill="none"/>
<path d="M133.27,198.23 L139.87,204.83 M133.27,204.83 L139.87,198.23" stroke="#000" stroke-opacity="0.85" stroke-width="1.4" fill="none"/>
<path d="M153.86,179.14 L160.46,185.74 M153.86,185.74 L160.46,179.14" stroke="#000" stroke-opacity="0.85" stroke-width="1.4" fill="none"/>
<path d="M153.86,180.64 L160.46,187.24 M153.86,187.24 L160.46,180.64" stroke="#000" stroke-opacity="0.85" stroke-width="1.4" fill="none"/>
<path d="M153.86,181.64 L160.46,188.24 M153.86,188.24 L160.46,181.64" stroke="#000" stroke-opacity="0.85" stroke-width="1.4" fill="none"/>
<path d="M174.45,164.83 L181.05,171.43 M174.45,171.43 L181.05,164.83" stroke="#000" stroke-opacity="0.85" stroke-width="1.4" fill="none"/>
<path d="M174.45,166.33 L181.05,172.93 M174.45,172.93 L181.05,166.33" stroke="#000" stroke-opacity="0.85" stroke-width="1.4" fill="none"/>
<path d="M174.45,167.33 L181.05,173.93 M174.45,173.93 L181.05,167.33" stroke="#000" stroke-opacity="0.85" stroke-width="1.4" fill="none"/>
<path d="M236.21,127.82 L242.81,134.42 M236.21,134.42 L242.81,127.82" stroke="#000" stroke-opacity="0.85" stroke-width="1.4" fill="none"/>
<path d="M236.21,130.82 L242.81,137.42 M236.21,137.42 L242.81,130.82" stroke="#000" stroke-opacity="0.85" stroke-width="1.4" fill="none"/>
<path d="M236.21,132.32 L242.81,138.92 M236.21,138.92 L242.81,132.32" stroke="#000" stroke-opacity="0.85" stroke-width="1.4" fill="none"/>
<path d="M256.80,118.45 L263.40,125.05 M256.80,125.05 L263.40,118.45" stroke="#000" stroke-opacity="0.85" stroke-width="1.4" fill="none"/>
<path d="M256.80,121.45 L263.40,128.05 M256.80,128.05 L263.40,121.45" stroke="#000" stroke-opacity="0.85" stroke-width="1.4" fill="none"/>
<path d="M256.80,122.95 L263.40,129.55 M256.80,129.55 L263.40,122.95" stroke="#000" stroke-opacity="0.85" stroke-width="1.4" fill="none"/>
<path d="M277.38,109.84 L283.98,116.44 M277.38,116.44 L283.98,109.84" stroke="#000" stroke-opacity="0.85" stroke-width="1.4" fill="none"/>
<path d="M277.38,112.84 L283.98,119.44 M277.38,119.44 L283.98,112.84" stroke="#000" stroke-opacity="0.85" stroke-width="1.4" fill="none"/>
<path d="M277.38,114.34 L283.98,120.94 M277.38,120.94 L283.98,114.34" stroke="#000" stroke-opacity="0.85" stroke-width="1.4" fill="none"/>
<path d="M297.97,101.83 L304.57,108.43 M297.97,108.43 L304.57,101.83" stroke="#000" stroke-opacity="0.85" stroke-width="1.4" fill="none"/>
<path d="M297.97,104.83 L304.57,111.43 M297.97,111.43 L304.57,104.83" stroke="#000" stroke-opacity="0.85" stroke-width="1.4" fill="none"/>
<path d="M297.97,106.33 L304.57,112.93 M297.97,112.93 L304.57,106.33" stroke="#000" stroke-opacity="0.85" stroke-width="1.4" fill="none"/>
<path d="M318.56,94.36 L325.16,100.96 M318.56,100.96 L325.16,94.36" stroke="#000" stroke-opacity="0.85" stroke-width="1.4" fill="none"/>
<path d="M318.56,97.36 L325.16,103.96 M318.56,103.96 L325.16,97.36" stroke="#000" stroke-opacity="0.85" stroke-width="1.4" fill="none"/>
<path d="M318.56,98.86 L325.16,105.46 M318.56,105.46 L325.16,98.86" stroke="#000" stroke-opacity="0.85" stroke-width="1.4" fill="none"/>
<path d="M380.32,76.67 L386.92,83.27 M380.32,83.27 L386.92,76.67" stroke="#000" stroke-opacity="0.85" stroke-width="1.4" fill="none"/>
<path d="M380.32,77.87 L386.92,84.47 M380.32,84.47 L386.92,77.87" stroke="#000" stroke-opacity="0.85" stroke-width="1.4" fill="none"/>
<path d="M380.32,79.07 L386.92,85.67 M380.32,85.67 L386.92,79.07" stroke="#000" stroke-opacity="0.85" stroke-width="1.4" fill="none"/>
<path d="M400.91,70.80 L407.51,77.40 M400.91,77.40 L407.51,70.80" stroke="#000" stroke-opacity="0.85" stroke-width="1.4" fill="none"/>
<path d="M400.91,72.00 L407.51,78.60 M400.91,78.60 L407.51,72.00" stroke="#000" stroke-opacity="0.85" stroke-width="1.4" fill="none"/>
<path d="M400.91,73.20 L407.51,79.80 M400.91,79.80 L407.51,73.20" stroke="#000" stroke-opacity="0.85" stroke-width="1.4" fill="none"/>
<path d="M111.49,207.90 H120.49" stroke="#8b4513" stroke-opacity="0.9" stroke-width="1.2"/><path d="M115.99,203.40 V212.40" stroke="#8b4513" stroke-opacity="0.3" stroke-width="0.9"/>
<path d="M132.07,177.50 H141.07" stroke="#8b4513" stroke-opacity="0.9" stroke-width="1.2"/><path d="M136.57,173.00 V182.00" stroke="#8b4513" stroke-opacity="0.3" stroke-width="0.9"/>
<path d="M152.66,156.13 H161.66" stroke="#ff0000" stroke-opacity="0.9" stroke-width="1.9"/><path d="M157.16,150.83 V161.43" stroke="#ff0000" stroke-opacity="0.3" stroke-width="0.9"/>
<path d="M152.66,157.13 H161.66" stroke="#ff0000" stroke-opacity="0.9" stroke-width="1.9"/><path d="M157.16,151.83 V162.43" stroke="#ff0000" stroke-opacity="0.3" stroke-width="0.9"/>
<path d="M152.66,158.13 H161.66" stroke="#ff0000" stroke-opacity="0.9" stroke-width="1.9"/><path d="M157.16,152.83 V163.43" stroke="#ff0000" stroke-opacity="0.3" stroke-width="0.9"/>
<path d="M173.25,137.75 H182.25" stroke="#ff0000" stroke-opacity="0.9" stroke-width="1.9"/><path d="M177.75,132.45 V143.05" stroke="#ff0000" stroke-opacity="0.3" stroke-width="0.9"/>
<path d="M173.25,138.75 H182.25" stroke="#ff0000" stroke-opacity="0.9" stroke-width="1.9"/><path d="M177.75,133.45 V144.05" stroke="#ff0000" stroke-opacity="0.3" stroke-width="0.9"/>
<path d="M173.25,139.75 H182.25" stroke="#ff0000" stroke-opacity="0.9" stroke-width="1.9"/><path d="M177.75,134.45 V145.05" stroke="#ff0000" stroke-opacity="0.3" stroke-width="0.9"/>
<path d="M235.01,97.79 H244.01" stroke="#ff0000" stroke-opacity="0.9" stroke-width="1.9"/><path d="M239.51,92.49 V103.09" stroke="#ff0000" stroke-opacity="0.3" stroke-width="0.9"/>
<path d="M235.01,98.79 H244.01" stroke="#ff0000" stroke-opacity="0.9" stroke-width="1.9"/><path d="M239.51,93.49 V104.09" stroke="#ff0000" stroke-opacity="0.3" stroke-width="0.9"/>
<path d="M235.01,99.79 H244.01" stroke="#ff0000" stroke-opacity="0.9" stroke-width="1.9"/><path d="M239.51,94.49 V105.09" stroke="#ff0000" stroke-opacity="0.3" stroke-width="0.9"/>
<path d="M255.60,87.79 H264.60" stroke="#ff0000" stroke-opacity="0.9" stroke-width="1.9"/><path d="M260.10,82.49 V93.09" stroke="#ff0000" stroke-opacity="0.3" stroke-width="0.9"/>
<path d="M255.60,88.79 H264.60" stroke="#ff0000" stroke-opacity="0.9" stroke-width="1.9"/><path d="M260.10,83.49 V94.09" stroke="#ff0000" stroke-opacity="0.3" stroke-width="0.9"/>
<path d="M255.60,89.79 H264.60" stroke="#ff0000" stroke-opacity="0.9" stroke-width="1.9"/><path d="M260.10,84.49 V95.09" stroke="#ff0000" stroke-opacity="0.3" stroke-width="0.9"/>
<path d="M276.18,78.93 H285.18" stroke="#ff0000" stroke-opacity="0.9" stroke-width="1.9"/><path d="M280.68,73.63 V84.23" stroke="#ff0000" stroke-opacity="0.3" stroke-width="0.9"/>
<path d="M276.18,79.93 H285.18" stroke="#ff0000" stroke-opacity="0.9" stroke-width="1.9"/><path d="M280.68,74.63 V85.23" stroke="#ff0000" stroke-opacity="0.3" stroke-width="0.9"/>
<path d="M276.18,80.93 H285.18" stroke="#ff0000" stroke-opacity="0.9" stroke-width="1.9"/><path d="M280.68,75.63 V86.23" stroke="#ff0000" stroke-opacity="0.3" stroke-width="0.9"/>
<path d="M296.77,71.05 H305.77" stroke="#ff0000" stroke-opacity="0.9" stroke-width="1.9"/><path d="M301.27,65.75 V76.35" stroke="#ff0000" stroke-opacity="0.3" stroke-width="0.9"/>
<path d="M296.77,72.05 H305.77" stroke="#ff0000" stroke-opacity="0.9" stroke-width="1.9"/><path d="M301.27,66.75 V77.35" stroke="#ff0000" stroke-opacity="0.3" stroke-width="0.9"/>
<path d="M296.77,73.05 H305.77" stroke="#ff0000" stroke-opacity="0.9" stroke-width="1.9"/><path d="M301.27,67.75 V78.35" stroke="#ff0000" stroke-opacity="0.3" stroke-width="0.9"/>
<path d="M317.36,63.98 H326.36" stroke="#ff0000" stroke-opacity="0.9" stroke-width="1.9"/><path d="M321.86,58.68 V69.28" stroke="#ff0000" stroke-opacity="0.3" stroke-width="0.9"/>
<path d="M317.36,64.98 H326.36" stroke="#ff0000" stroke-opacity="0.9" stroke-width="1.9"/><path d="M321.86,59.68 V70.28" stroke="#ff0000" stroke-opacity="0.3" stroke-width="0.9"/>
<path d="M317.36,65.98 H326.36" stroke="#ff0000" stroke-opacity="0.9" stroke-width="1.9"/><path d="M321.86,60.68 V71.28" stroke="#ff0000" stroke-opacity="0.3" stroke-width="0.9"/>
<path d="M379.12,41.80 H388.12" stroke="#ff0000" stroke-opacity="0.9" stroke-width="1.9"/><path d="M383.62,37.30 V46.30" stroke="#ff0000" stroke-opacity="0.3" stroke-width="0.9"/>
<path d="M379.12,43.20 H388.12" stroke="#ff0000" stroke-opacity="0.9" stroke-width="1.9"/><path d="M383.62,38.70 V47.70" stroke="#ff0000" stroke-opacity="0.3" stroke-width="0.9"/>
<path d="M379.12,44.60 H388.12" stroke="#ff0000" stroke-opacity="0.9" stroke-width="1.9"/><path d="M383.62,40.10 V49.10" stroke="#ff0000" stroke-opacity="0.3" stroke-width="0.9"/>
<path d="M399.71,36.00 H408.71" stroke="#ff0000" stroke-opacity="0.9" stroke-width="1.9"/><path d="M404.21,31.50 V40.50" stroke="#ff0000" stroke-opacity="0.3" stroke-width="0.9"/>
<path d="M399.71,37.20 H408.71" stroke="#ff0000" stroke-opacity="0.9" stroke-width="1.9"/><path d="M404.21,32.70 V41.70" stroke="#ff0000" stroke-opacity="0.3" stroke-width="0.9"/>
<path d="M399.71,38.40 H408.71" stroke="#ff0000" stroke-opacity="0.9" stroke-width="1.9"/><path d="M404.21,33.90 V42.90" stroke="#ff0000" stroke-opacity="0.3" stroke-width="0.9"/>
<path d="M399.71,40.90 H408.71" stroke="#ff0000" stroke-opacity="0.9" stroke-width="1.9"/><path d="M404.21,36.40 V45.40" stroke="#ff0000" stroke-opacity="0.3" stroke-width="0.9"/>
<path d="M111.58,164.04 L115.99,156.41 L120.39,164.04" fill="none" stroke="#006400" stroke-opacity="0.85" stroke-width="1.3" stroke-linejoin="round"/><path d="M111.58,164.04 H120.39" stroke="#006400" stroke-opacity="0.85" stroke-width="1.8"/>
<path d="M111.58,166.04 L115.99,158.41 L120.39,166.04" fill="none" stroke="#006400" stroke-opacity="0.85" stroke-width="1.3" stroke-linejoin="round"/><path d="M111.58,166.04 H120.39" stroke="#006400" stroke-opacity="0.85" stroke-width="1.8"/>
<path d="M111.58,169.04 L115.99,161.41 L120.39,169.04" fill="none" stroke="#006400" stroke-opacity="0.85" stroke-width="1.3" stroke-linejoin="round"/><path d="M111.58,169.04 H120.39" stroke="#006400" stroke-opacity="0.85" stroke-width="1.8"/>
<path d="M132.17,124.34 L136.57,116.71 L140.98,124.34" fill="none" stroke="#006400" stroke-opacity="0.85" stroke-width="1.3" stroke-linejoin="round"/><path d="M132.17,124.34 H140.98" stroke="#006400" stroke-opacity="0.85" stroke-width="1.8"/>
<path d="M132.17,126.04 L136.57,118.41 L140.98,126.04" fill="none" stroke="#006400" stroke-opacity="0.85" stroke-width="1.3" stroke-linejoin="round"/><path d="M132.17,126.04 H140.98" stroke="#006400" stroke-opacity="0.85" stroke-width="1.8"/>
<path d="M132.17,127.54 L136.57,119.91 L140.98,127.54" fill="none" stroke="#006400" stroke-opacity="0.85" stroke-width="1.3" stroke-linejoin="round"/><path d="M132.17,127.54 H140.98" stroke="#006400" stroke-opacity="0.85" stroke-width="1.8"/>
<path d="M152.76,93.54 L157.16,85.91 L161.57,93.54" fill="none" stroke="#006400" stroke-opacity="0.85" stroke-width="1.3" stroke-linejoin="round"/><path d="M152.76,93.54 H161.57" stroke="#006400" stroke-opacity="0.85" stroke-width="1.8"/>
<path d="M152.76,95.54 L157.16,87.91 L161.57,95.54" fill="none" stroke="#006400" stroke-opacity="0.85" stroke-width="1.3" stroke-linejoin="round"/><path d="M152.76,95.54 H161.57" stroke="#006400" stroke-opacity="0.85" stroke-width="1.8"/>
<path d="M152.76,97.84 L157.16,90.21 L161.57,97.84" fill="none" stroke="#006400" stroke-opacity="0.85" stroke-width="1.3" stroke-linejoin="round"/><path d="M152.76,97.84 H161.57" stroke="#006400" stroke-opacity="0.85" stroke-width="1.8"/>
<path d="M173.34,72.54 L177.75,64.91 L182.15,72.54" fill="none" stroke="#006400" stroke-opacity="0.85" stroke-width="1.3" stroke-linejoin="round"/><path d="M173.34,72.54 H182.15" stroke="#006400" stroke-opacity="0.85" stroke-width="1.8"/>
<path d="M173.34,74.54 L177.75,66.91 L182.15,74.54" fill="none" stroke="#006400" stroke-opacity="0.85" stroke-width="1.3" stroke-linejoin="round"/><path d="M173.34,74.54 H182.15" stroke="#006400" stroke-opacity="0.85" stroke-width="1.8"/>
<path d="M173.34,76.04 L177.75,68.41 L182.15,76.04" fill="none" stroke="#006400" stroke-opacity="0.85" stroke-width="1.3" stroke-linejoin="round"/><path d="M173.34,76.04 H182.15" stroke="#006400" stroke-opacity="0.85" stroke-width="1.8"/>
<path d="M235.11,43.64 L239.51,36.01 L243.91,43.64" fill="none" stroke="#006400" stroke-opacity="0.85" stroke-width="1.3" stroke-linejoin="round"/><path d="M235.11,43.64 H243.91" stroke="#006400" stroke-opacity="0.85" stroke-width="1.8"/>
<path d="M235.11,45.54 L239.51,37.91 L243.91,45.54" fill="none" stroke="#006400" stroke-opacity="0.85" stroke-width="1.3" stroke-linejoin="round"/><path d="M235.11,45.54 H243.91" stroke="#006400" stroke-opacity="0.85" stroke-width="1.8"/>
<path d="M235.11,46.74 L239.51,39.11 L243.91,46.74" fill="none" stroke="#006400" stroke-opacity="0.85" stroke-width="1.3" stroke-linejoin="round"/><path d="M235.11,46.74 H243.91" stroke="#006400" stroke-opacity="0.85" stroke-width="1.8"/>
<path d="M235.11,50.94 L239.51,43.31 L243.91,50.94" fill="none" stroke="#006400" stroke-opacity="0.85" stroke-width="1.3" stroke-linejoin="round"/><path d="M235.11,50.94 H243.91" stroke="#006400" stroke-opacity="0.85" stroke-width="1.8"/>
<path d="M106.8,215.5 L107.2,222 L105.5,240 L103.4,248 L101.7,263.6 L92.7,263.6 L93.5,248 L95.3,240 L95.6,222 L98.3,215.5 L102.7,212 Z" fill="#4d7022"/>
<path d="M96.81,227.97 L101.21,220.34 L105.62,227.97" fill="none" stroke="#2a4a08" stroke-opacity="0.55" stroke-width="1.3" stroke-linejoin="round"/><path d="M96.81,227.97 H105.62" stroke="#2a4a08" stroke-opacity="0.55" stroke-width="1.8"/>
<path d="M96.29,234.30 L100.70,226.67 L105.10,234.30" fill="none" stroke="#2a4a08" stroke-opacity="0.55" stroke-width="1.3" stroke-linejoin="round"/><path d="M96.29,234.30 H105.10" stroke="#2a4a08" stroke-opacity="0.55" stroke-width="1.8"/>
<path d="M93.72,246.58 L98.13,238.95 L102.53,246.58" fill="none" stroke="#2a4a08" stroke-opacity="0.55" stroke-width="1.3" stroke-linejoin="round"/><path d="M93.72,246.58 H102.53" stroke="#2a4a08" stroke-opacity="0.55" stroke-width="1.8"/>
<path d="M98.63,217.17 L103.04,209.55 L107.44,217.17" fill="none" stroke="#2a4a08" stroke-opacity="0.55" stroke-width="1.3" stroke-linejoin="round"/><path d="M98.63,217.17 H107.44" stroke="#2a4a08" stroke-opacity="0.55" stroke-width="1.8"/>
<path d="M95.96,228.99 L100.36,221.36 L104.76,228.99" fill="none" stroke="#2a4a08" stroke-opacity="0.55" stroke-width="1.3" stroke-linejoin="round"/><path d="M95.96,228.99 H104.76" stroke="#2a4a08" stroke-opacity="0.55" stroke-width="1.8"/>
<path d="M92.85,264.33 L97.25,256.71 L101.66,264.33" fill="none" stroke="#2a4a08" stroke-opacity="0.55" stroke-width="1.3" stroke-linejoin="round"/><path d="M92.85,264.33 H101.66" stroke="#2a4a08" stroke-opacity="0.55" stroke-width="1.8"/>
<path d="M93.66,256.69 L98.06,249.06 L102.47,256.69" fill="none" stroke="#2a4a08" stroke-opacity="0.55" stroke-width="1.3" stroke-linejoin="round"/><path d="M93.66,256.69 H102.47" stroke="#2a4a08" stroke-opacity="0.55" stroke-width="1.8"/>
<path d="M93.86,247.22 L98.27,239.59 L102.67,247.22" fill="none" stroke="#2a4a08" stroke-opacity="0.55" stroke-width="1.3" stroke-linejoin="round"/><path d="M93.86,247.22 H102.67" stroke="#2a4a08" stroke-opacity="0.55" stroke-width="1.8"/>
<path d="M95.60,247.02 L100.01,239.39 L104.41,247.02" fill="none" stroke="#2a4a08" stroke-opacity="0.55" stroke-width="1.3" stroke-linejoin="round"/><path d="M95.60,247.02 H104.41" stroke="#2a4a08" stroke-opacity="0.55" stroke-width="1.8"/>
<path d="M95.86,241.66 L100.26,234.03 L104.67,241.66" fill="none" stroke="#2a4a08" stroke-opacity="0.55" stroke-width="1.3" stroke-linejoin="round"/><path d="M95.86,241.66 H104.67" stroke="#2a4a08" stroke-opacity="0.55" stroke-width="1.8"/>
<path d="M93.49,248.77 L97.90,241.14 L102.30,248.77" fill="none" stroke="#2a4a08" stroke-opacity="0.55" stroke-width="1.3" stroke-linejoin="round"/><path d="M93.49,248.77 H102.30" stroke="#2a4a08" stroke-opacity="0.55" stroke-width="1.8"/>
<path d="M94.32,252.94 L98.73,245.31 L103.13,252.94" fill="none" stroke="#2a4a08" stroke-opacity="0.55" stroke-width="1.3" stroke-linejoin="round"/><path d="M94.32,252.94 H103.13" stroke="#2a4a08" stroke-opacity="0.55" stroke-width="1.8"/>
<path d="M95.26,231.00 L99.66,223.38 L104.07,231.00" fill="none" stroke="#2a4a08" stroke-opacity="0.55" stroke-width="1.3" stroke-linejoin="round"/><path d="M95.26,231.00 H104.07" stroke="#2a4a08" stroke-opacity="0.55" stroke-width="1.8"/>
<path d="M93.51,258.09 L97.91,250.46 L102.31,258.09" fill="none" stroke="#2a4a08" stroke-opacity="0.55" stroke-width="1.3" stroke-linejoin="round"/><path d="M93.51,258.09 H102.31" stroke="#2a4a08" stroke-opacity="0.55" stroke-width="1.8"/>
<path d="M95.21,251.05 L99.62,243.42 L104.02,251.05" fill="none" stroke="#2a4a08" stroke-opacity="0.55" stroke-width="1.3" stroke-linejoin="round"/><path d="M95.21,251.05 H104.02" stroke="#2a4a08" stroke-opacity="0.55" stroke-width="1.8"/>
<path d="M95.34,250.82 L99.74,243.19 L104.14,250.82" fill="none" stroke="#2a4a08" stroke-opacity="0.55" stroke-width="1.3" stroke-linejoin="round"/><path d="M95.34,250.82 H104.14" stroke="#2a4a08" stroke-opacity="0.55" stroke-width="1.8"/>
<path d="M96.64,235.50 L101.04,227.87 L105.45,235.50" fill="none" stroke="#2a4a08" stroke-opacity="0.55" stroke-width="1.3" stroke-linejoin="round"/><path d="M96.64,235.50 H105.45" stroke="#2a4a08" stroke-opacity="0.55" stroke-width="1.8"/>
<path d="M96.72,237.88 L101.12,230.26 L105.52,237.88" fill="none" stroke="#2a4a08" stroke-opacity="0.55" stroke-width="1.3" stroke-linejoin="round"/><path d="M96.72,237.88 H105.52" stroke="#2a4a08" stroke-opacity="0.55" stroke-width="1.8"/>
<path d="M92.54,258.73 L96.94,251.10 L101.35,258.73" fill="none" stroke="#2a4a08" stroke-opacity="0.55" stroke-width="1.3" stroke-linejoin="round"/><path d="M92.54,258.73 H101.35" stroke="#2a4a08" stroke-opacity="0.55" stroke-width="1.8"/>
<path d="M96.53,223.07 L100.93,215.44 L105.34,223.07" fill="none" stroke="#2a4a08" stroke-opacity="0.55" stroke-width="1.3" stroke-linejoin="round"/><path d="M96.53,223.07 H105.34" stroke="#2a4a08" stroke-opacity="0.55" stroke-width="1.8"/>
<path d="M92.92,262.89 L97.32,255.26 L101.73,262.89" fill="none" stroke="#2a4a08" stroke-opacity="0.55" stroke-width="1.3" stroke-linejoin="round"/><path d="M92.92,262.89 H101.73" stroke="#2a4a08" stroke-opacity="0.55" stroke-width="1.8"/>
<path d="M94.28,246.62 L98.69,238.99 L103.09,246.62" fill="none" stroke="#2a4a08" stroke-opacity="0.55" stroke-width="1.3" stroke-linejoin="round"/><path d="M94.28,246.62 H103.09" stroke="#2a4a08" stroke-opacity="0.55" stroke-width="1.8"/>
<path d="M95.08,240.89 L99.49,233.26 L103.89,240.89" fill="none" stroke="#2a4a08" stroke-opacity="0.55" stroke-width="1.3" stroke-linejoin="round"/><path d="M95.08,240.89 H103.89" stroke="#2a4a08" stroke-opacity="0.55" stroke-width="1.8"/>
<path d="M96.34,233.39 L100.75,225.76 L105.15,233.39" fill="none" stroke="#2a4a08" stroke-opacity="0.55" stroke-width="1.3" stroke-linejoin="round"/><path d="M96.34,233.39 H105.15" stroke="#2a4a08" stroke-opacity="0.55" stroke-width="1.8"/>
<path d="M95.94,244.59 L100.35,236.96 L104.75,244.59" fill="none" stroke="#2a4a08" stroke-opacity="0.55" stroke-width="1.3" stroke-linejoin="round"/><path d="M95.94,244.59 H104.75" stroke="#2a4a08" stroke-opacity="0.55" stroke-width="1.8"/>
<path d="M95.52,249.28 L99.92,241.65 L104.32,249.28" fill="none" stroke="#2a4a08" stroke-opacity="0.55" stroke-width="1.3" stroke-linejoin="round"/><path d="M95.52,249.28 H104.32" stroke="#2a4a08" stroke-opacity="0.55" stroke-width="1.8"/>
<path d="M98.30,215.24 L102.70,207.61 L107.10,215.24" fill="none" stroke="#2f5a0a" stroke-opacity="0.6" stroke-width="1.3" stroke-linejoin="round"/><path d="M98.30,215.24 H107.10" stroke="#2f5a0a" stroke-opacity="0.6" stroke-width="1.8"/>
<path d="M98.10,217.04 L102.50,209.41 L106.90,217.04" fill="none" stroke="#2f5a0a" stroke-opacity="0.6" stroke-width="1.3" stroke-linejoin="round"/><path d="M98.10,217.04 H106.90" stroke="#2f5a0a" stroke-opacity="0.6" stroke-width="1.8"/>
<rect x="95.3" y="240.2" width="9.6" height="7.4" fill="#6e4814" fill-opacity="0.9"/>
<path d="M92.00,266.80 H101.00" stroke="#8b4513" stroke-opacity="0.9" stroke-width="1.4"/><path d="M96.50,262.30 V271.30" stroke="#8b4513" stroke-opacity="0.3" stroke-width="0.9"/>
<path d="M96.7,263.5 L96.3,271.5" stroke="#7a4a14" stroke-width="1.8"/>
<ellipse cx="96.1" cy="273.2" rx="1.3" ry="2.1" fill="#000"/>
<path d="M80.5,5.3 V291 M419.5,5.3 V291" stroke="#8c8c8c" stroke-width="1.1" fill="none"/>
<path d="M80,5.3 H420 M80,290.9 H420" stroke="#8a8a8a" stroke-width="1.3" fill="none"/>
<line x1="76.0" y1="277.70" x2="80.0" y2="277.70" stroke="#3c3c3c" stroke-width="1.4"/>
<text transform="translate(73.60,286.90) scale(1,1.045)" text-anchor="end" font-size="22.6">0.00</text>
<line x1="76.0" y1="212.80" x2="80.0" y2="212.80" stroke="#3c3c3c" stroke-width="1.4"/>
<text transform="translate(73.60,222.00) scale(1,1.045)" text-anchor="end" font-size="22.6">0.25</text>
<line x1="76.0" y1="147.90" x2="80.0" y2="147.90" stroke="#3c3c3c" stroke-width="1.4"/>
<text transform="translate(73.60,157.10) scale(1,1.045)" text-anchor="end" font-size="22.6">0.50</text>
<line x1="76.0" y1="83.00" x2="80.0" y2="83.00" stroke="#3c3c3c" stroke-width="1.4"/>
<text transform="translate(73.60,92.20) scale(1,1.045)" text-anchor="end" font-size="22.6">0.75</text>
<line x1="76.0" y1="18.10" x2="80.0" y2="18.10" stroke="#3c3c3c" stroke-width="1.4"/>
<text transform="translate(73.60,27.30) scale(1,1.045)" text-anchor="end" font-size="22.6">1.00</text>
<line x1="95.60" y1="291.4" x2="95.60" y2="294.6" stroke="#3c3c3c" stroke-width="1.5"/>
<line x1="116.18" y1="291.4" x2="116.18" y2="294.6" stroke="#3c3c3c" stroke-width="1.5"/>
<line x1="136.76" y1="291.4" x2="136.76" y2="294.6" stroke="#3c3c3c" stroke-width="1.5"/>
<line x1="157.35" y1="291.4" x2="157.35" y2="294.6" stroke="#3c3c3c" stroke-width="1.5"/>
<line x1="177.93" y1="291.4" x2="177.93" y2="294.6" stroke="#3c3c3c" stroke-width="1.5"/>
<line x1="198.51" y1="291.4" x2="198.51" y2="294.6" stroke="#3c3c3c" stroke-width="1.5"/>
<line x1="219.09" y1="291.4" x2="219.09" y2="294.6" stroke="#3c3c3c" stroke-width="1.5"/>
<line x1="239.68" y1="291.4" x2="239.68" y2="294.6" stroke="#3c3c3c" stroke-width="1.5"/>
<line x1="260.26" y1="291.4" x2="260.26" y2="294.6" stroke="#3c3c3c" stroke-width="1.5"/>
<line x1="280.84" y1="291.4" x2="280.84" y2="294.6" stroke="#3c3c3c" stroke-width="1.5"/>
<line x1="301.42" y1="291.4" x2="301.42" y2="294.6" stroke="#3c3c3c" stroke-width="1.5"/>
<line x1="322.01" y1="291.4" x2="322.01" y2="294.6" stroke="#3c3c3c" stroke-width="1.5"/>
<line x1="342.59" y1="291.4" x2="342.59" y2="294.6" stroke="#3c3c3c" stroke-width="1.5"/>
<line x1="363.17" y1="291.4" x2="363.17" y2="294.6" stroke="#3c3c3c" stroke-width="1.5"/>
<line x1="383.75" y1="291.4" x2="383.75" y2="294.6" stroke="#3c3c3c" stroke-width="1.5"/>
<line x1="404.34" y1="291.4" x2="404.34" y2="294.6" stroke="#3c3c3c" stroke-width="1.5"/>
<text transform="translate(95.60,314.50) scale(1,1.045)" text-anchor="middle" font-size="22.6">0</text>
<text transform="translate(198.51,314.50) scale(1,1.045)" text-anchor="middle" font-size="22.6">120</text>
<text transform="translate(301.42,314.50) scale(1,1.045)" text-anchor="middle" font-size="22.6">240</text>
<text transform="translate(404.34,314.50) scale(1,1.045)" text-anchor="middle" font-size="22.6">360</text>
<text transform="translate(250.10,339.60) scale(1,1.02)" text-anchor="middle" font-size="22.6" style="letter-spacing:0.2px">Time (hours)</text>
<text transform="translate(21.20,147.80) rotate(-90)" text-anchor="middle" font-size="22.6" style="letter-spacing:0.1px">Normalized Acc. Prog.[-]</text>
<text transform="translate(441.70,107.90)" text-anchor="start" font-size="22.6" style="letter-spacing:0.1px">Dose (mg)</text>
<line x1="444.2" y1="131.60" x2="461.6" y2="131.60" stroke="#006400" stroke-width="2.2"/>
<path d="M448.60,134.54 L453.00,126.91 L457.40,134.54" fill="none" stroke="#006400" stroke-opacity="0.6" stroke-width="1.3" stroke-linejoin="round"/><path d="M448.60,134.54 H457.40" stroke="#006400" stroke-opacity="0.6" stroke-width="1.8"/>
<text transform="translate(499.80,139.70)" text-anchor="middle" font-size="22.6">125</text>
<line x1="444.2" y1="153.27" x2="461.6" y2="153.27" stroke="#ff0000" stroke-width="2.2"/>
<path d="M448.50,153.27 H457.50" stroke="#ff0000" stroke-opacity="0.9" stroke-width="1.9"/><path d="M453.00,148.77 V157.77" stroke="#ff0000" stroke-opacity="0.3" stroke-width="0.9"/>
<text transform="translate(499.80,161.37)" text-anchor="middle" font-size="22.6">375</text>
<line x1="444.2" y1="174.94" x2="461.6" y2="174.94" stroke="#000000" stroke-width="2.2"/>
<path d="M449.70,171.64 L456.30,178.24 M449.70,178.24 L456.30,171.64" stroke="#000" stroke-opacity="0.6" stroke-width="1.4" fill="none"/>
<text transform="translate(499.80,183.04)" text-anchor="middle" font-size="22.6">750</text>
<line x1="444.2" y1="196.61" x2="461.6" y2="196.61" stroke="#999999" stroke-width="2.2"/>
<path d="M453.00,192.21 L456.20,196.61 L453.00,201.01 L449.80,196.61 Z" stroke="#8c8c8c" stroke-opacity="0.7" stroke-width="1.0" fill="none"/>
<text transform="translate(499.80,204.71)" text-anchor="middle" font-size="22.6">1500</text>
</svg></body></html>
